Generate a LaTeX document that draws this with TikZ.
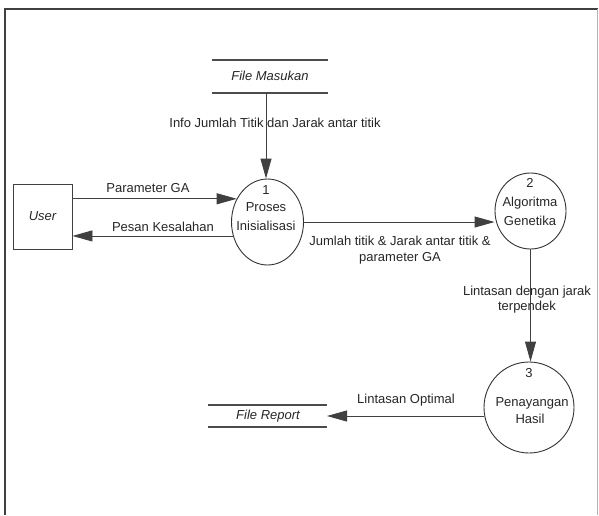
\documentclass[tikz,border=0pt]{standalone}
\usepackage{fontspec}
\setmainfont{Liberation Sans}
\usetikzlibrary{shapes.geometric,arrows.meta}
\begin{document}
\begin{tikzpicture}[x=1pt,y=-1pt,
  txt/.style={font=\fontsize{13}{16}\selectfont, text=black!85, inner sep=0pt},
  itxt/.style={txt, font=\fontsize{13}{16}\selectfont\itshape},
  flow/.style={draw=black!75, line width=0.9pt, -{Triangle[length=20pt,width=11pt]}},
  storeline/.style={draw=black!70, line width=1.1pt},
  proc/.style={draw=black!80, line width=0.9pt, ellipse, inner sep=0pt},
  entity/.style={draw=black!75, line width=0.9pt, rectangle, inner sep=0pt}]
\useasboundingbox (0,0) rectangle (599,515);
% frame
\coordinate (fa) at (5,515);
\coordinate (fb) at (5,9);
\coordinate (fc) at (597.5,9);
\coordinate (fd) at (597.5,515);
\draw[black!75, line width=1.5pt] (fa) -- (fb) -- (fc);
\draw[black!30, line width=0.6pt] (fc) -- (fd);

% data store File Masukan
\coordinate (fm1) at (212,60);
\coordinate (fm2) at (328,60);
\coordinate (fm3) at (212,93);
\coordinate (fm4) at (328,93);
\coordinate (fmb) at (266,93);
\draw[storeline] (fm1) -- (fm2);
\draw[storeline] (fm3) -- (fm4);
\node[itxt] (fm) at (270,76) {File Masukan};

% data store File Report
\coordinate (fr1) at (208,405);
\coordinate (fr2) at (327,405);
\coordinate (fr3) at (208,427);
\coordinate (fr4) at (327,427);
\coordinate (frr) at (327,416);
\draw[storeline] (fr1) -- (fr2);
\draw[storeline] (fr3) -- (fr4);
\node[itxt] (fr) at (268,416) {File Report};

% entity
\node[entity, minimum width=59pt, minimum height=65pt] (user) at (42.5,216.5) {};
\node[itxt] (usert) at (42.5,216.5) {User};

% processes
\node[proc, minimum width=72pt, minimum height=86pt] (p1) at (267.5,222) {};
\node[txt] (p1n) at (266,190) {1};
\node[txt] (p1a) at (266,207) {Proses};
\node[txt] (p1b) at (266,226) {Inisialisasi};

\node[proc, minimum width=71pt, minimum height=76pt] (p2) at (530.5,211) {};
\node[txt] (p2n) at (530,183) {2};
\node[txt] (p2a) at (530,203) {Algoritma};
\node[txt] (p2b) at (530,221) {Genetika};

\node[proc, minimum width=90pt, minimum height=91pt] (p3) at (529,407.5) {};
\node[txt] (p3n) at (529,373) {3};
\node[txt] (p3a) at (532,403) {Penayangan};
\node[txt] (p3b) at (530,419) {Hasil};

% flows
\draw[flow] (fmb) -- (fmb |- p1.north);
\node[txt] (l1) at (275,123) {Info Jumlah Titik dan Jarak antar titik};

\draw[flow] (user.east |- p1.143) -- (p1.143);
\node[txt] (l2) at (148,188) {Parameter GA};

\draw[flow] (p1.202) -- (user.east |- p1.202);
\node[txt] (l3) at (163,227) {Pesan Kesalahan};

\draw[flow] (p1.east) -- (p1.east -| p2.west);
\node[txt, align=center, font=\fontsize{13}{16}\selectfont] (l4) at (400,250) {Jumlah titik \& Jarak antar titik \&\\parameter GA};

\draw[flow] (p2.south) -- (p2.south |- p3.north);
\node[txt, align=center, font=\fontsize{13}{15}\selectfont] (l5) at (527,299.5) {Lintasan dengan jarak\\terpendek};

\draw[flow] (p3.west |- frr) -- (frr);
\node[txt] (l6) at (406,400) {Lintasan Optimal};
\end{tikzpicture}
\end{document}
